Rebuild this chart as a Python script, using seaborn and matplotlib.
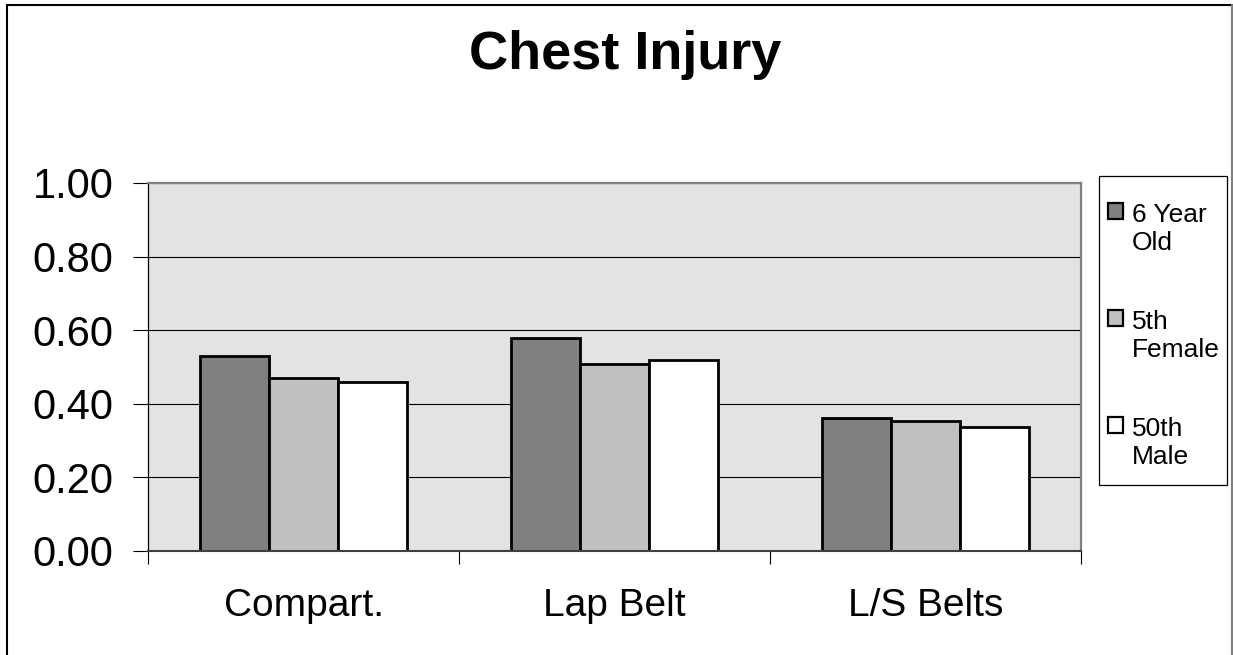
import numpy as np
import pandas as pd
import matplotlib
matplotlib.use("Agg")
import matplotlib.pyplot as plt
from matplotlib.lines import Line2D
from matplotlib.patches import Rectangle
import seaborn as sns

# ==================== 数据 ====================
restraints = ["Compart.", "Lap Belt", "L/S Belts"]
dummies = ["6 Year Old", "5th Female", "50th Male"]
legend_labels = ["6 Year\nOld", "5th\nFemale", "50th\nMale"]
six_year_old = [0.531, 0.580, 0.362]
fifth_female = [0.469, 0.507, 0.354]
fiftieth_male = [0.460, 0.520, 0.338]
y_ticks = [0.0, 0.2, 0.4, 0.6, 0.8, 1.0]

bar_colors = ["#808080", "#C0C0C0", "#FFFFFF"]

df = pd.DataFrame({
    "restraint": restraints * 3,
    "dummy": [d for d in dummies for _ in restraints],
    "value": six_year_old + fifth_female + fiftieth_male,
})

# ==================== 风格 ====================
sns.set_style("white")
plt.rcParams["font.family"] = ["Liberation Sans", "DejaVu Sans"]
plt.rcParams["text.color"] = "black"
plt.rcParams["xtick.color"] = "black"
plt.rcParams["ytick.color"] = "black"
plt.rcParams["axes.labelcolor"] = "black"

W, H = 1233, 655
fig = plt.figure(figsize=(W / 100, H / 100), dpi=100)
ax = fig.add_axes([148 / W, 1 - 551 / H, (1081 - 148) / W, (551 - 183) / H])

sns.barplot(data=df, x="restraint", y="value", hue="dummy",
            hue_order=dummies, order=restraints, palette=bar_colors,
            width=0.667, edgecolor="black", linewidth=2.0,
            saturation=1, errorbar=None, ax=ax)

handles, _ = ax.get_legend_handles_labels()
ax.get_legend().remove()

ax.set_facecolor("#E3E3E3")
ax.set_xlim(-0.5, 2.5)
ax.set_ylim(0, 1.0)
ax.set_xlabel("")
ax.set_ylabel("")

# y 轴
ax.set_yticks(y_ticks)
ax.set_yticklabels([f"{v:.2f}" for v in y_ticks])
ax.tick_params(axis="y", which="major", direction="out", length=11,
               width=0.8, labelsize=30, pad=14, left=True)
ax.yaxis.grid(True, color="black", linewidth=0.8)
ax.set_axisbelow(True)

# x 轴: 分隔刻度 + 居中标签
ax.set_xticks([-0.5, 0.5, 1.5, 2.5])
ax.set_xticklabels([])
ax.set_xticks([0, 1, 2], minor=True)
ax.set_xticklabels(restraints, minor=True)
ax.tick_params(axis="x", which="major", direction="out", length=9,
               width=0.8, bottom=True)
ax.tick_params(axis="x", which="minor", length=0, labelsize=28, pad=27)

for side in ["top", "right"]:
    ax.spines[side].set_color("#808080")
    ax.spines[side].set_linewidth(1.6)
ax.spines["left"].set_color("black")
ax.spines["left"].set_linewidth(0.9)
ax.spines["bottom"].set_color("#404040")
ax.spines["bottom"].set_linewidth(1.5)

# 标题
fig.text(625 / W, 1 - 69 / H, "Chest Injury", ha="center", va="baseline",
         fontsize=39, fontweight="bold")

# 图例
for h in handles:
    h.set_edgecolor("black")
    h.set_linewidth(1.6)
leg = fig.legend(handles, legend_labels, loc="upper left",
                 bbox_to_anchor=(1108 / W, 1 - 203 / H),
                 frameon=False, fontsize=19, handlelength=0.55,
                 handleheight=0.55, handletextpad=0.35, labelspacing=2.1,
                 borderpad=0, borderaxespad=0)
for col in leg._legend_handle_box.get_children():
    for item in col.get_children():
        item.align = "top"
fig.add_artist(Rectangle((1099 / W, 1 - 485 / H), (1227 - 1099) / W,
                         (485 - 176) / H, transform=fig.transFigure,
                         fill=False, edgecolor="black", linewidth=0.9))

# 外框
fig.add_artist(Line2D([7 / W, 7 / W], [0, 1 - 5 / H], color="black", lw=1.5))
fig.add_artist(Line2D([7 / W, 1232 / W], [1 - 5 / H, 1 - 5 / H], color="black", lw=1.5))
fig.add_artist(Line2D([1232 / W, 1232 / W], [0, 1 - 5 / H], color="#808080", lw=1.5))

fig.savefig("out.png", dpi=100)
